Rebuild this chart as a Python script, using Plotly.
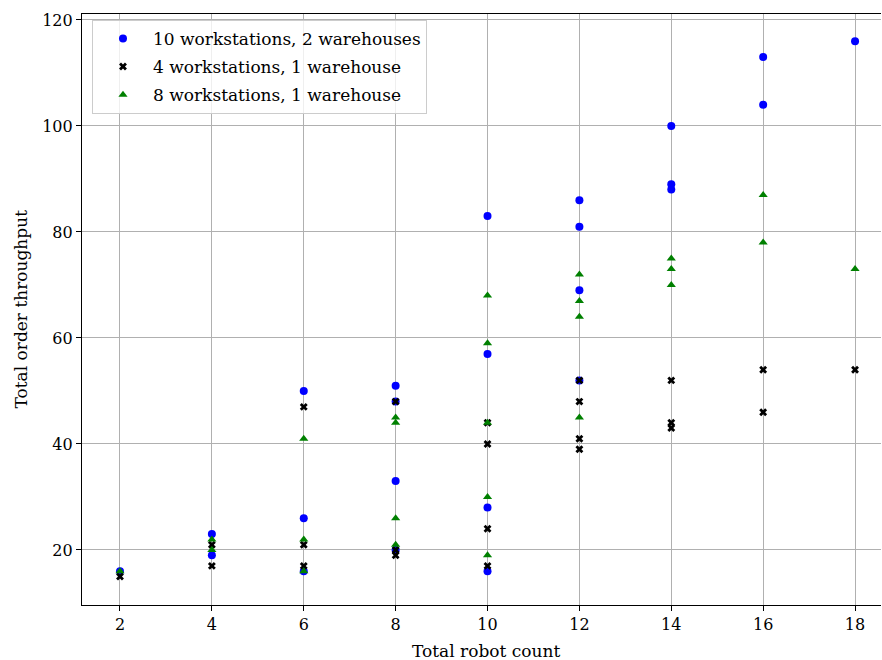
import plotly.graph_objects as go

# Throughput measurements per configuration (robot count, total orders)
ws10_wh2_robots = [2, 4, 4, 6, 6, 6, 8, 8, 8, 8, 10, 10, 10, 10, 12, 12, 12, 12, 14, 14, 14, 16, 16, 18]
ws10_wh2_orders = [16, 23, 19, 50, 26, 16, 51, 48, 33, 20, 83, 57, 28, 16, 86, 81, 69, 52, 100, 89, 88, 113, 104, 116]

ws4_wh1_robots = [2, 4, 4, 6, 6, 6, 8, 8, 8, 10, 10, 10, 10, 12, 12, 12, 12, 14, 14, 14, 16, 16, 18]
ws4_wh1_orders = [15, 21, 17, 47, 21, 17, 48, 20, 19, 44, 40, 24, 17, 52, 48, 41, 39, 52, 44, 43, 54, 46, 54]

ws8_wh1_robots = [2, 4, 4, 6, 6, 6, 8, 8, 8, 8, 10, 10, 10, 10, 10, 12, 12, 12, 12, 14, 14, 14, 16, 16, 18]
ws8_wh1_orders = [16, 22, 20, 41, 22, 16, 45, 44, 26, 21, 68, 59, 44, 30, 19, 72, 67, 64, 45, 75, 73, 70, 87, 78, 73]

x_ticks = [2, 4, 6, 8, 10, 12, 14, 16, 18]
y_ticks = [20, 40, 60, 80, 100, 120]

FONT = "DejaVu Serif"

fig = go.Figure()
fig.add_trace(go.Scatter(
    x=ws10_wh2_robots, y=ws10_wh2_orders, mode="markers",
    name="10 workstations, 2 warehouses", legendgroup="a",
    marker=dict(symbol="circle", size=8, color="#0000ff", line=dict(width=0)),
))
fig.add_trace(go.Scatter(
    x=ws4_wh1_robots, y=ws4_wh1_orders, mode="markers",
    name="4 workstations, 1 warehouse", legendgroup="b",
    marker=dict(symbol="x", size=7, color="#000000", line=dict(width=0)),
))
fig.add_trace(go.Scatter(
    x=ws8_wh1_robots, y=ws8_wh1_orders, mode="markers",
    name="8 workstations, 1 warehouse", legendgroup="c",
    marker=dict(symbol="triangle-up", size=8, color="#008000", line=dict(width=0)),
))

axis_common = dict(
    showgrid=True, gridcolor="#b0b0b0", gridwidth=1,
    showline=True, linecolor="black", linewidth=1.2,
    ticks="outside", ticklen=5, tickwidth=1.2, tickcolor="black",
    tickfont=dict(family=FONT, size=16, color="black"),
    zeroline=False,
)

fig.update_xaxes(range=[1.173, 18.565], tickvals=x_ticks, mirror=True, **axis_common)
fig.update_yaxes(range=[9.62, 121.13], tickvals=y_ticks, mirror=False, **axis_common)

fig.add_annotation(
    text="Total robot count", xref="paper", yref="paper", x=0.5056, y=0,
    xanchor="center", yanchor="middle", yshift=-46, showarrow=False,
    font=dict(family=FONT, size=17, color="black"),
)
fig.add_annotation(
    text="Total order throughput", xref="paper", yref="paper", x=0, y=0.5,
    xanchor="center", yanchor="middle", xshift=-62, textangle=-90, showarrow=False,
    font=dict(family=FONT, size=17, color="black"),
)

fig.update_layout(
    width=882, height=660,
    margin=dict(l=82, r=1, t=14, b=55),
    plot_bgcolor="white", paper_bgcolor="white",
    showlegend=True,
    legend=dict(
        x=0.0125, y=0.99, xanchor="left", yanchor="top",
        bgcolor="rgba(255,255,255,0.8)", bordercolor="#cccccc", borderwidth=1,
        font=dict(family=FONT, size=17, color="black"),
        itemsizing="trace", itemwidth=50, tracegroupgap=3,
    ),
)

fig.write_html("out.html")
